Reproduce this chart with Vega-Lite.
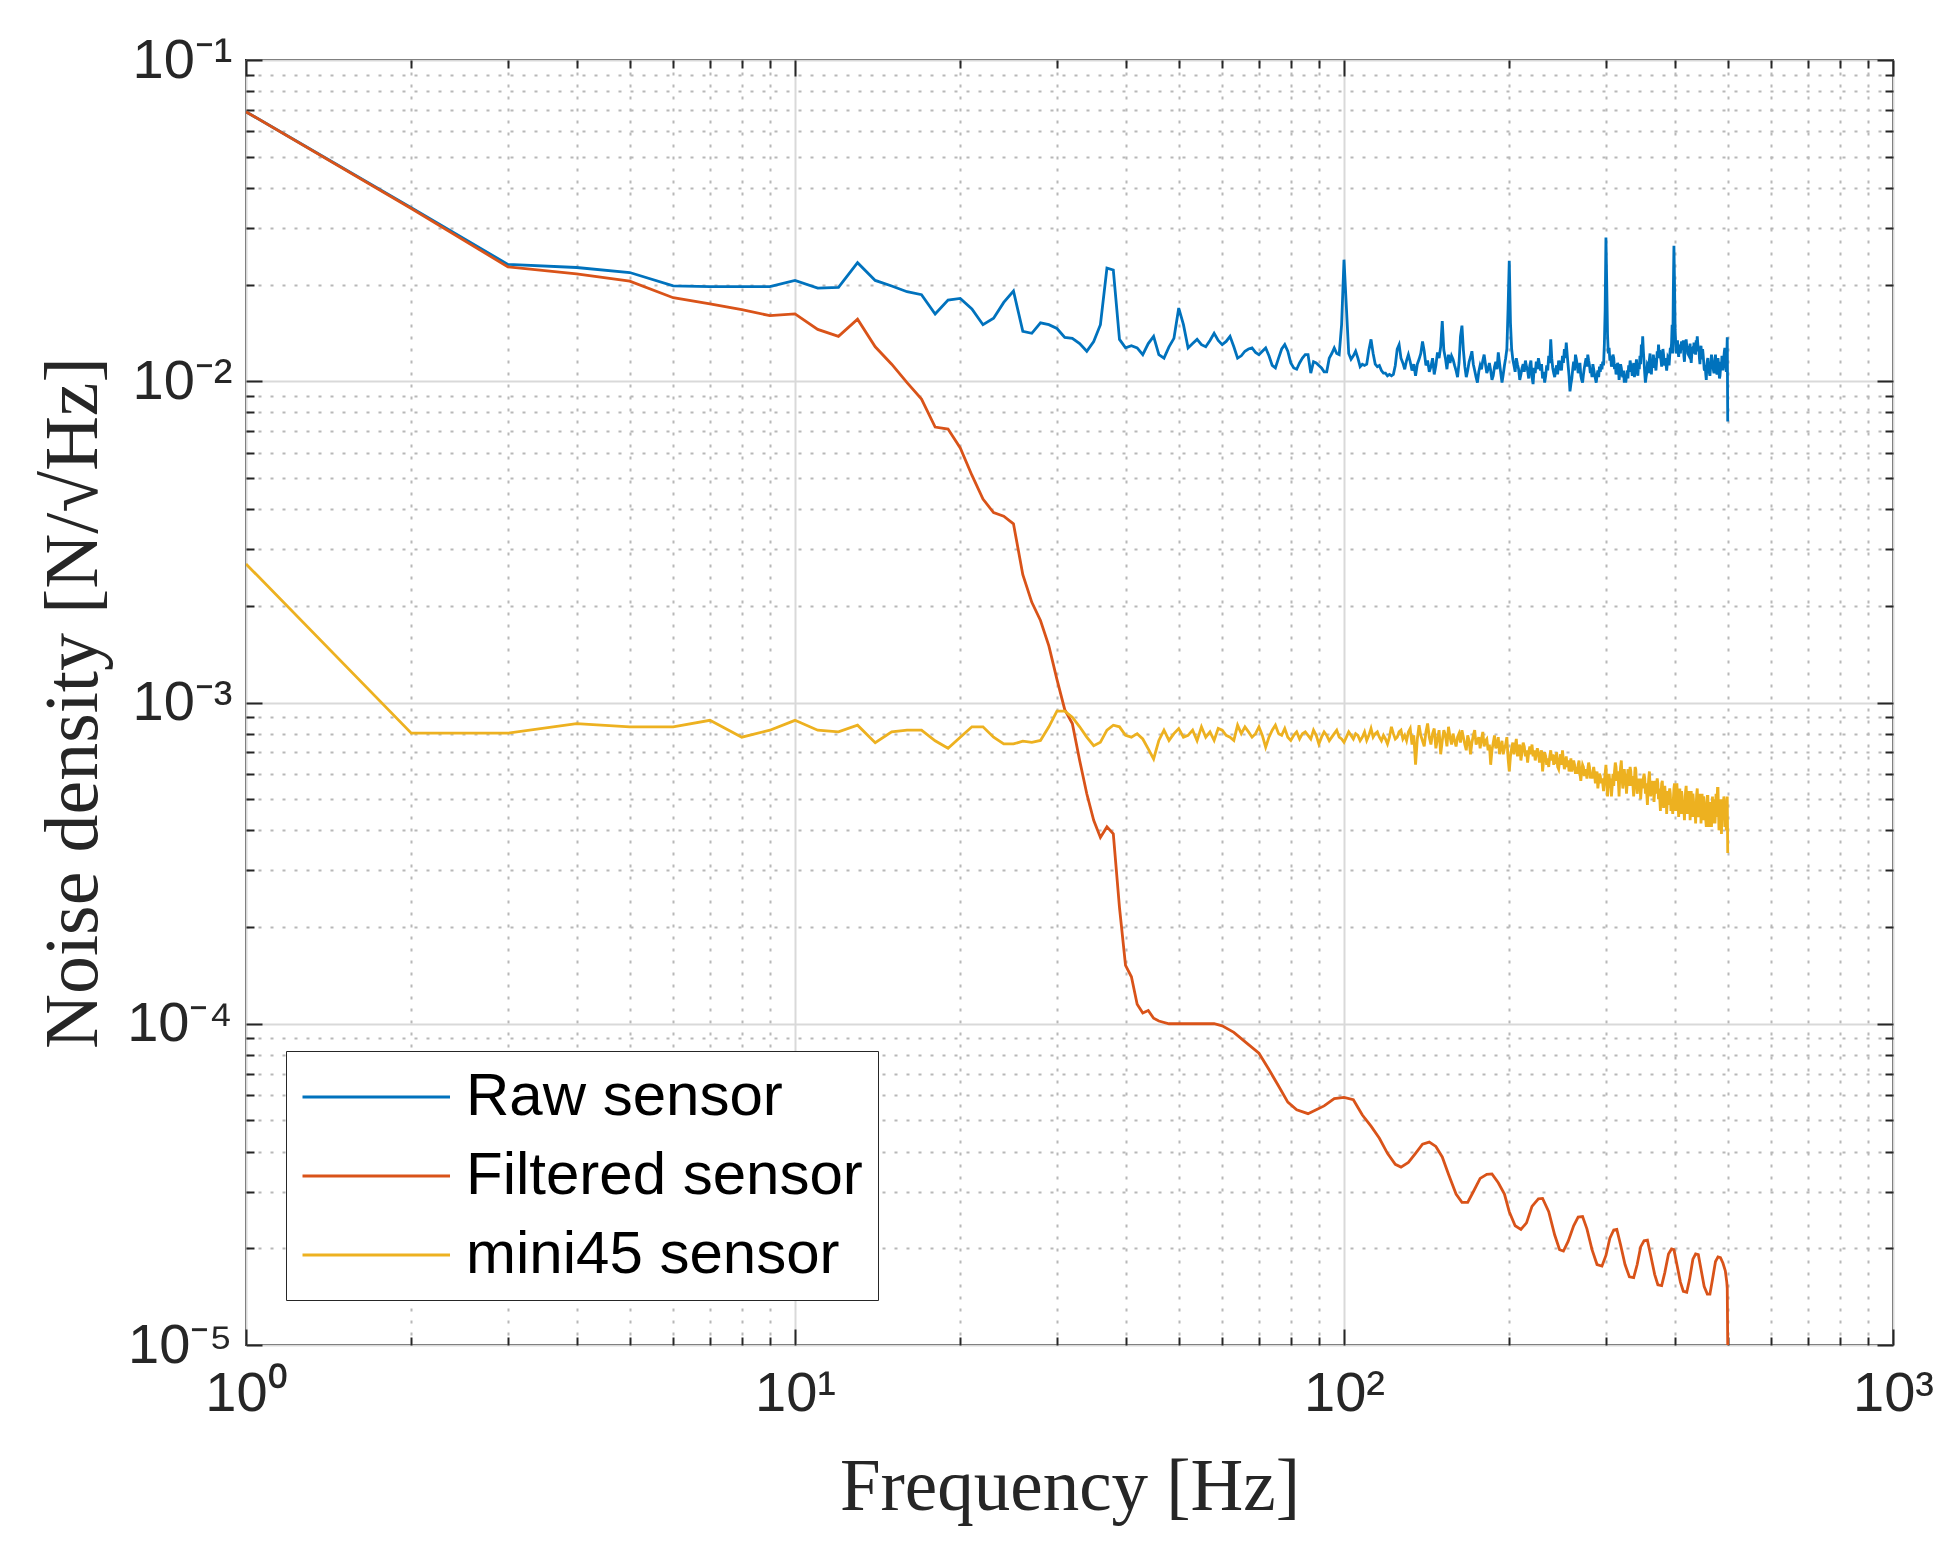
{
  "$schema": "https://vega.github.io/schema/vega-lite/v6.json",
  "width": 1647,
  "height": 1285,
  "autosize": {"type": "none"},
  "padding": {"left": 246, "top": 60, "right": 63, "bottom": 211},
  "background": "#ffffff",
  "view": {"stroke": "#262626", "strokeWidth": 2, "fill": "#ffffff"},
  "datasets": {
    "raw": [
      {"f":1,"v":0.069},{"f":2,"v":0.0347},{"f":3,"v":0.0231},{"f":4,"v":0.0226},{"f":5,"v":0.0218},{"f":6,"v":0.0198},{"f":7,"v":0.0197},{"f":8,"v":0.0197},{"f":9,"v":0.0197},{"f":10,"v":0.0206},
      {"f":11,"v":0.0195},{"f":12,"v":0.0196},{"f":13,"v":0.0234},{"f":14,"v":0.0206},{"f":15,"v":0.0198},{"f":16,"v":0.019},{"f":17,"v":0.0186},{"f":18,"v":0.0162},{"f":19,"v":0.0179},{"f":20,"v":0.0181},
      {"f":21,"v":0.0168},{"f":22,"v":0.015},{"f":23,"v":0.0157},{"f":24,"v":0.0176},{"f":25,"v":0.0191},{"f":26,"v":0.0143},{"f":27,"v":0.0141},{"f":28,"v":0.0152},{"f":29,"v":0.015},{"f":30,"v":0.0146},
      {"f":31,"v":0.0137},{"f":32,"v":0.0136},{"f":33,"v":0.0131},{"f":34,"v":0.0124},{"f":35,"v":0.0133},{"f":36,"v":0.015},{"f":37,"v":0.0225},{"f":38,"v":0.0222},{"f":39,"v":0.0135},{"f":40,"v":0.0127},
      {"f":41,"v":0.0129},{"f":42,"v":0.0127},{"f":43,"v":0.0121},{"f":44,"v":0.0131},{"f":45,"v":0.0138},{"f":46,"v":0.0121},{"f":47,"v":0.0118},{"f":48,"v":0.0128},{"f":49,"v":0.0136},{"f":50,"v":0.0169},
      {"f":51,"v":0.015},{"f":52,"v":0.0127},{"f":53,"v":0.0131},{"f":54,"v":0.0135},{"f":55,"v":0.013},{"f":56,"v":0.0128},{"f":57,"v":0.0134},{"f":58,"v":0.0141},{"f":59,"v":0.0134},{"f":60,"v":0.013},
      {"f":61,"v":0.0133},{"f":62,"v":0.0138},{"f":63,"v":0.0128},{"f":64,"v":0.0118},{"f":65,"v":0.012},{"f":66,"v":0.0124},{"f":67,"v":0.0126},{"f":68,"v":0.0127},{"f":69,"v":0.0123},{"f":70,"v":0.0121},
      {"f":71,"v":0.0124},{"f":72,"v":0.0127},{"f":73,"v":0.012},{"f":74,"v":0.0112},{"f":75,"v":0.011},{"f":76,"v":0.0118},{"f":77,"v":0.0126},{"f":78,"v":0.013},{"f":79,"v":0.0124},{"f":80,"v":0.0114},
      {"f":81,"v":0.011},{"f":82,"v":0.0109},{"f":83,"v":0.0114},{"f":84,"v":0.0118},{"f":85,"v":0.0121},{"f":86,"v":0.0121},{"f":87,"v":0.0106},{"f":88,"v":0.0115},{"f":89,"v":0.0114},{"f":90,"v":0.0112},
      {"f":91,"v":0.011},{"f":92,"v":0.0107},{"f":93,"v":0.0107},{"f":94,"v":0.0118},{"f":95,"v":0.0122},{"f":96,"v":0.0127},{"f":97,"v":0.0122},{"f":98,"v":0.0121},{"f":99,"v":0.015},{"f":100,"v":0.0239},
      {"f":101,"v":0.017},{"f":102,"v":0.0122},{"f":103,"v":0.0117},{"f":104,"v":0.012},{"f":105,"v":0.0124},{"f":106,"v":0.0118},{"f":107,"v":0.0111},{"f":108,"v":0.0113},{"f":109,"v":0.0112},{"f":110,"v":0.0113},
      {"f":111,"v":0.0125},{"f":112,"v":0.0135},{"f":113,"v":0.0122},{"f":114,"v":0.0113},{"f":115,"v":0.0111},{"f":116,"v":0.0112},{"f":117,"v":0.0108},{"f":118,"v":0.0106},{"f":119,"v":0.0106},{"f":120,"v":0.0104},
      {"f":121,"v":0.0105},{"f":122,"v":0.0104},{"f":123,"v":0.0105},{"f":124,"v":0.0112},{"f":125,"v":0.0126},{"f":126,"v":0.013},{"f":127,"v":0.0118},{"f":128,"v":0.0114},{"f":129,"v":0.0109},{"f":130,"v":0.0116},
      {"f":131,"v":0.0121},{"f":132,"v":0.0115},{"f":133,"v":0.0108},{"f":134,"v":0.0113},{"f":135,"v":0.0104},{"f":136,"v":0.0113},{"f":137,"v":0.0117},{"f":138,"v":0.0122},{"f":139,"v":0.0133},{"f":140,"v":0.0124},
      {"f":141,"v":0.0112},{"f":142,"v":0.0116},{"f":143,"v":0.0107},{"f":144,"v":0.0111},{"f":145,"v":0.0118},{"f":146,"v":0.0105},{"f":147,"v":0.0112},{"f":148,"v":0.0123},{"f":149,"v":0.0118},{"f":150,"v":0.0128},
      {"f":151,"v":0.0154},{"f":152,"v":0.0125},{"f":153,"v":0.0118},{"f":154,"v":0.0109},{"f":155,"v":0.0121},{"f":156,"v":0.0114},{"f":157,"v":0.012},{"f":158,"v":0.0117},{"f":159,"v":0.0112},{"f":160,"v":0.0108},
      {"f":161,"v":0.0103},{"f":162,"v":0.0114},{"f":163,"v":0.0138},{"f":164,"v":0.0149},{"f":165,"v":0.0125},{"f":166,"v":0.0111},{"f":167,"v":0.0103},{"f":168,"v":0.0108},{"f":169,"v":0.0115},{"f":170,"v":0.0119},
      {"f":171,"v":0.0124},{"f":172,"v":0.0113},{"f":173,"v":0.0108},{"f":174,"v":0.0103},{"f":175,"v":0.0099},{"f":176,"v":0.0107},{"f":177,"v":0.0112},{"f":178,"v":0.0109},{"f":179,"v":0.0116},{"f":180,"v":0.0121},
      {"f":181,"v":0.0113},{"f":182,"v":0.0106},{"f":183,"v":0.0109},{"f":184,"v":0.0114},{"f":185,"v":0.0108},{"f":186,"v":0.0101},{"f":187,"v":0.0104},{"f":188,"v":0.0111},{"f":189,"v":0.0115},{"f":190,"v":0.0109},
      {"f":191,"v":0.0123},{"f":192,"v":0.0114},{"f":193,"v":0.0106},{"f":194,"v":0.0099},{"f":195,"v":0.0105},{"f":196,"v":0.0112},{"f":197,"v":0.0118},{"f":198,"v":0.0126},{"f":199,"v":0.0168},{"f":200,"v":0.0237},
      {"f":201,"v":0.0152},{"f":202,"v":0.0126},{"f":203,"v":0.0117},{"f":204,"v":0.0112},{"f":205,"v":0.0107},{"f":206,"v":0.0118},{"f":207,"v":0.0113},{"f":208,"v":0.0109},{"f":209,"v":0.0101},{"f":210,"v":0.0105},
      {"f":211,"v":0.011},{"f":212,"v":0.0113},{"f":213,"v":0.0107},{"f":214,"v":0.0116},{"f":215,"v":0.0111},{"f":216,"v":0.0108},{"f":217,"v":0.0102},{"f":218,"v":0.0112},{"f":219,"v":0.0116},{"f":220,"v":0.0103},
      {"f":221,"v":0.0098},{"f":222,"v":0.011},{"f":223,"v":0.0106},{"f":224,"v":0.0115},{"f":225,"v":0.0109},{"f":226,"v":0.0118},{"f":227,"v":0.0113},{"f":228,"v":0.0108},{"f":229,"v":0.0113},{"f":230,"v":0.0102},
      {"f":231,"v":0.0107},{"f":232,"v":0.0099},{"f":233,"v":0.0104},{"f":234,"v":0.0112},{"f":235,"v":0.0108},{"f":236,"v":0.012},{"f":237,"v":0.0114},{"f":238,"v":0.0135},{"f":239,"v":0.0118},{"f":240,"v":0.011},
      {"f":241,"v":0.0106},{"f":242,"v":0.0103},{"f":243,"v":0.0109},{"f":244,"v":0.0112},{"f":245,"v":0.0105},{"f":246,"v":0.0116},{"f":247,"v":0.0111},{"f":248,"v":0.0113},{"f":249,"v":0.0108},{"f":250,"v":0.012},
      {"f":251,"v":0.0114},{"f":252,"v":0.0126},{"f":253,"v":0.0118},{"f":254,"v":0.0132},{"f":255,"v":0.0121},{"f":256,"v":0.0112},{"f":257,"v":0.0104},{"f":258,"v":0.0093},{"f":259,"v":0.0098},{"f":260,"v":0.0102},
      {"f":261,"v":0.0109},{"f":262,"v":0.0115},{"f":263,"v":0.0108},{"f":264,"v":0.0121},{"f":265,"v":0.0117},{"f":266,"v":0.0112},{"f":267,"v":0.0106},{"f":268,"v":0.0108},{"f":269,"v":0.0114},{"f":270,"v":0.0104},
      {"f":271,"v":0.0101},{"f":272,"v":0.0099},{"f":273,"v":0.0105},{"f":274,"v":0.011},{"f":275,"v":0.0114},{"f":276,"v":0.0118},{"f":277,"v":0.0111},{"f":278,"v":0.0121},{"f":279,"v":0.0116},{"f":280,"v":0.0112},
      {"f":281,"v":0.0106},{"f":282,"v":0.0108},{"f":283,"v":0.0103},{"f":284,"v":0.0113},{"f":285,"v":0.0109},{"f":286,"v":0.0105},{"f":287,"v":0.0102},{"f":288,"v":0.0099},{"f":289,"v":0.0104},{"f":290,"v":0.0108},
      {"f":291,"v":0.0103},{"f":292,"v":0.0111},{"f":293,"v":0.0107},{"f":294,"v":0.0113},{"f":295,"v":0.0109},{"f":296,"v":0.0115},{"f":297,"v":0.0112},{"f":298,"v":0.013},{"f":299,"v":0.0166},{"f":300,"v":0.028},
      {"f":301,"v":0.02},{"f":302,"v":0.014},{"f":303,"v":0.0122},{"f":304,"v":0.0127},{"f":305,"v":0.0116},{"f":306,"v":0.012},{"f":307,"v":0.0111},{"f":308,"v":0.0115},{"f":309,"v":0.0121},{"f":310,"v":0.0118},
      {"f":311,"v":0.0109},{"f":312,"v":0.0113},{"f":313,"v":0.0105},{"f":314,"v":0.0108},{"f":315,"v":0.0114},{"f":316,"v":0.0112},{"f":317,"v":0.0101},{"f":318,"v":0.0106},{"f":319,"v":0.0113},{"f":320,"v":0.011},
      {"f":321,"v":0.0105},{"f":322,"v":0.0103},{"f":323,"v":0.0108},{"f":324,"v":0.0099},{"f":325,"v":0.0103},{"f":326,"v":0.0099},{"f":327,"v":0.0104},{"f":328,"v":0.0108},{"f":329,"v":0.0102},{"f":330,"v":0.0112},
      {"f":331,"v":0.0107},{"f":332,"v":0.0116},{"f":333,"v":0.0112},{"f":334,"v":0.011},{"f":335,"v":0.0104},{"f":336,"v":0.0108},{"f":337,"v":0.0114},{"f":338,"v":0.0103},{"f":339,"v":0.0107},{"f":340,"v":0.0112},
      {"f":341,"v":0.0117},{"f":342,"v":0.0108},{"f":343,"v":0.0104},{"f":344,"v":0.0114},{"f":345,"v":0.0109},{"f":346,"v":0.012},{"f":347,"v":0.0113},{"f":348,"v":0.013},{"f":349,"v":0.0121},{"f":350,"v":0.0138},
      {"f":351,"v":0.0124},{"f":352,"v":0.0115},{"f":353,"v":0.0106},{"f":354,"v":0.0099},{"f":355,"v":0.0103},{"f":356,"v":0.0106},{"f":357,"v":0.0113},{"f":358,"v":0.0112},{"f":359,"v":0.0106},{"f":360,"v":0.0117},
      {"f":361,"v":0.0122},{"f":362,"v":0.011},{"f":363,"v":0.0105},{"f":364,"v":0.0115},{"f":365,"v":0.011},{"f":366,"v":0.0121},{"f":367,"v":0.0116},{"f":368,"v":0.0118},{"f":369,"v":0.0112},{"f":370,"v":0.0108},
      {"f":371,"v":0.0115},{"f":372,"v":0.0124},{"f":373,"v":0.0118},{"f":374,"v":0.013},{"f":375,"v":0.0122},{"f":376,"v":0.0125},{"f":377,"v":0.0119},{"f":378,"v":0.0116},{"f":379,"v":0.0111},{"f":380,"v":0.0118},
      {"f":381,"v":0.0126},{"f":382,"v":0.0121},{"f":383,"v":0.0114},{"f":384,"v":0.0112},{"f":385,"v":0.0118},{"f":386,"v":0.0113},{"f":387,"v":0.0108},{"f":388,"v":0.0113},{"f":389,"v":0.0119},{"f":390,"v":0.0118},
      {"f":391,"v":0.0112},{"f":392,"v":0.012},{"f":393,"v":0.0127},{"f":394,"v":0.0125},{"f":395,"v":0.0131},{"f":396,"v":0.015},{"f":397,"v":0.0122},{"f":398,"v":0.0191},{"f":399,"v":0.0264},{"f":400,"v":0.02},
      {"f":401,"v":0.0145},{"f":402,"v":0.013},{"f":403,"v":0.0122},{"f":404,"v":0.0128},{"f":405,"v":0.0134},{"f":406,"v":0.0124},{"f":407,"v":0.0119},{"f":408,"v":0.013},{"f":409,"v":0.0126},{"f":410,"v":0.0122},
      {"f":411,"v":0.0129},{"f":412,"v":0.0133},{"f":413,"v":0.0125},{"f":414,"v":0.0128},{"f":415,"v":0.0134},{"f":416,"v":0.012},{"f":417,"v":0.0115},{"f":418,"v":0.0126},{"f":419,"v":0.0131},{"f":420,"v":0.0135},
      {"f":421,"v":0.0129},{"f":422,"v":0.0128},{"f":423,"v":0.0122},{"f":424,"v":0.0121},{"f":425,"v":0.0127},{"f":426,"v":0.0125},{"f":427,"v":0.0131},{"f":428,"v":0.0119},{"f":429,"v":0.0114},{"f":430,"v":0.0121},
      {"f":431,"v":0.0126},{"f":432,"v":0.0127},{"f":433,"v":0.0122},{"f":434,"v":0.0132},{"f":435,"v":0.0128},{"f":436,"v":0.0126},{"f":437,"v":0.0121},{"f":438,"v":0.0134},{"f":439,"v":0.0129},{"f":440,"v":0.0138},
      {"f":441,"v":0.0131},{"f":442,"v":0.0124},{"f":443,"v":0.0128},{"f":444,"v":0.0118},{"f":445,"v":0.0113},{"f":446,"v":0.0125},{"f":447,"v":0.0129},{"f":448,"v":0.0121},{"f":449,"v":0.0117},{"f":450,"v":0.0126},
      {"f":451,"v":0.0121},{"f":452,"v":0.0115},{"f":453,"v":0.0109},{"f":454,"v":0.0108},{"f":455,"v":0.0112},{"f":456,"v":0.0105},{"f":457,"v":0.0101},{"f":458,"v":0.0112},{"f":459,"v":0.0116},{"f":460,"v":0.0118},
      {"f":461,"v":0.0112},{"f":462,"v":0.011},{"f":463,"v":0.0106},{"f":464,"v":0.0104},{"f":465,"v":0.0109},{"f":466,"v":0.0114},{"f":467,"v":0.0121},{"f":468,"v":0.0118},{"f":469,"v":0.0113},{"f":470,"v":0.0112},
      {"f":471,"v":0.0108},{"f":472,"v":0.0106},{"f":473,"v":0.0111},{"f":474,"v":0.0116},{"f":475,"v":0.0121},{"f":476,"v":0.0111},{"f":477,"v":0.0107},{"f":478,"v":0.0105},{"f":479,"v":0.0112},{"f":480,"v":0.0118},
      {"f":481,"v":0.0113},{"f":482,"v":0.0107},{"f":483,"v":0.0102},{"f":484,"v":0.0104},{"f":485,"v":0.0109},{"f":486,"v":0.0115},{"f":487,"v":0.0111},{"f":488,"v":0.012},{"f":489,"v":0.0114},{"f":490,"v":0.0108},
      {"f":491,"v":0.0113},{"f":492,"v":0.0119},{"f":493,"v":0.0124},{"f":494,"v":0.0127},{"f":495,"v":0.0118},{"f":496,"v":0.0112},{"f":497,"v":0.0107},{"f":498,"v":0.0118},{"f":499,"v":0.0137},{"f":500,"v":0.0075}
    ],
    "filtered": [
      {"f":1,"v":0.069},{"f":2,"v":0.0345},{"f":3,"v":0.0227},{"f":4,"v":0.0216},{"f":5,"v":0.0205},{"f":6,"v":0.0182},{"f":7,"v":0.0174},{"f":8,"v":0.0167},{"f":9,"v":0.016},{"f":10,"v":0.0162},
      {"f":11,"v":0.0145},{"f":12,"v":0.0138},{"f":13,"v":0.0156},{"f":14,"v":0.0128},{"f":15,"v":0.0113},{"f":16,"v":0.0099},{"f":17,"v":0.0088},{"f":18,"v":0.0072},{"f":19,"v":0.0071},{"f":20,"v":0.0062},
      {"f":21,"v":0.0051},{"f":22,"v":0.0043},{"f":23,"v":0.0039},{"f":24,"v":0.0038},{"f":25,"v":0.0036},{"f":26,"v":0.0025},{"f":27,"v":0.00205},{"f":28,"v":0.0018},{"f":29,"v":0.0015},{"f":30,"v":0.00118},
      {"f":31,"v":0.00095},{"f":32,"v":0.00086},{"f":33,"v":0.00066},{"f":34,"v":0.00052},{"f":35,"v":0.00043},{"f":36,"v":0.00038},{"f":37,"v":0.00041},{"f":38,"v":0.00039},{"f":39,"v":0.00023},{"f":40,"v":0.000152},
      {"f":41,"v":0.00014},{"f":42,"v":0.000115},{"f":43,"v":0.000108},{"f":44,"v":0.00011},{"f":45,"v":0.000104},{"f":46,"v":0.000102},{"f":48,"v":0.0001},{"f":50,"v":0.0001},{"f":55,"v":0.0001},{"f":58,"v":0.0001},
      {"f":60,"v":0.0000985},{"f":63,"v":0.000094},{"f":66,"v":0.000088},{"f":70,"v":0.000081},{"f":73,"v":0.000072},{"f":76,"v":0.000064},{"f":79,"v":0.000057},{"f":82,"v":0.000054},{"f":86,"v":0.0000525},{"f":89,"v":0.000054},
      {"f":92,"v":0.0000555},{"f":96,"v":0.0000585},{"f":100,"v":0.000059},{"f":104,"v":0.000058},{"f":108,"v":0.000052},{"f":112,"v":0.000048},{"f":116,"v":0.000044},{"f":120,"v":0.0000395},{"f":124,"v":0.0000365},{"f":127,"v":0.0000358},
      {"f":131,"v":0.000037},{"f":135,"v":0.0000395},{"f":139,"v":0.0000422},{"f":143,"v":0.0000428},{"f":147,"v":0.0000415},{"f":151,"v":0.0000385},{"f":155,"v":0.000034},{"f":160,"v":0.0000295},{"f":164,"v":0.0000278},{"f":168,"v":0.0000278},
      {"f":172,"v":0.00003},{"f":177,"v":0.000033},{"f":182,"v":0.000034},{"f":186,"v":0.0000341},{"f":191,"v":0.000032},{"f":196,"v":0.0000295},{"f":200,"v":0.000026},{"f":205,"v":0.0000235},{"f":210,"v":0.0000229},{"f":215,"v":0.000024},
      {"f":220,"v":0.000027},{"f":226,"v":0.0000285},{"f":230,"v":0.0000286},{"f":236,"v":0.000026},{"f":242,"v":0.000022},{"f":247,"v":0.0000198},{"f":251,"v":0.0000196},{"f":256,"v":0.000021},{"f":262,"v":0.0000235},{"f":267,"v":0.000025},
      {"f":272,"v":0.0000251},{"f":277,"v":0.000023},{"f":283,"v":0.0000198},{"f":289,"v":0.0000178},{"f":295,"v":0.0000176},{"f":300,"v":0.000019},{"f":305,"v":0.0000215},{"f":310,"v":0.0000228},{"f":314,"v":0.0000229},{"f":319,"v":0.0000205},
      {"f":325,"v":0.0000178},{"f":331,"v":0.0000163},{"f":337,"v":0.0000162},{"f":342,"v":0.0000178},{"f":347,"v":0.0000202},{"f":352,"v":0.0000211},{"f":357,"v":0.0000212},{"f":362,"v":0.000019},{"f":368,"v":0.0000166},{"f":373,"v":0.0000154},
      {"f":379,"v":0.0000153},{"f":384,"v":0.0000168},{"f":390,"v":0.0000192},{"f":395,"v":0.0000199},{"f":399,"v":0.0000198},{"f":404,"v":0.0000178},{"f":410,"v":0.0000157},{"f":415,"v":0.0000147},{"f":421,"v":0.0000146},{"f":426,"v":0.000016},
      {"f":432,"v":0.0000185},{"f":437,"v":0.0000192},{"f":442,"v":0.0000191},{"f":447,"v":0.0000172},{"f":453,"v":0.0000152},{"f":459,"v":0.0000144},{"f":464,"v":0.0000144},{"f":469,"v":0.000016},{"f":475,"v":0.0000182},{"f":480,"v":0.0000188},
      {"f":485,"v":0.0000187},{"f":490,"v":0.000018},{"f":495,"v":0.000017},{"f":498,"v":0.0000157},{"f":499,"v":0.000015},{"f":500,"v":0.00001}
    ],
    "mini45": [
      {"f":1,"v":0.0027},{"f":2,"v":0.000803},{"f":3,"v":0.000803},{"f":4,"v":0.00086},{"f":5,"v":0.00084},{"f":6,"v":0.00084},{"f":7,"v":0.00088},{"f":8,"v":0.00078},{"f":9,"v":0.00082},{"f":10,"v":0.00088},
      {"f":11,"v":0.00082},{"f":12,"v":0.00081},{"f":13,"v":0.00085},{"f":14,"v":0.00075},{"f":15,"v":0.00081},{"f":16,"v":0.00082},{"f":17,"v":0.00082},{"f":18,"v":0.00076},{"f":19,"v":0.00072},{"f":20,"v":0.00078},
      {"f":21,"v":0.00084},{"f":22,"v":0.00084},{"f":23,"v":0.00078},{"f":24,"v":0.000743},{"f":25,"v":0.000743},{"f":26,"v":0.000758},{"f":27,"v":0.000752},{"f":28,"v":0.000762},{"f":29,"v":0.00084},{"f":30,"v":0.00094},
      {"f":31,"v":0.00094},{"f":32,"v":0.0009},{"f":33,"v":0.00084},{"f":34,"v":0.00078},{"f":35,"v":0.000734},{"f":36,"v":0.000752},{"f":37,"v":0.00082},{"f":38,"v":0.00085},{"f":39,"v":0.00084},{"f":40,"v":0.00079},
      {"f":41,"v":0.00078},{"f":42,"v":0.0008},{"f":43,"v":0.00077},{"f":44,"v":0.000717},{"f":45,"v":0.000667},{"f":46,"v":0.000762},{"f":47,"v":0.00082},{"f":48,"v":0.000762},{"f":49,"v":0.0008},{"f":50,"v":0.00083},
      {"f":51,"v":0.00078},{"f":52,"v":0.00079},{"f":53,"v":0.00082},{"f":54,"v":0.00076},{"f":55,"v":0.00084},{"f":56,"v":0.00078},{"f":57,"v":0.00081},{"f":58,"v":0.000762},{"f":59,"v":0.00083},{"f":60,"v":0.00082},
      {"f":61,"v":0.00079},{"f":62,"v":0.00078},{"f":63,"v":0.000762},{"f":64,"v":0.00085},{"f":65,"v":0.0008},{"f":66,"v":0.00084},{"f":67,"v":0.00081},{"f":68,"v":0.00078},{"f":69,"v":0.0008},{"f":70,"v":0.00084},
      {"f":71,"v":0.00079},{"f":72,"v":0.000726},{"f":73,"v":0.00078},{"f":74,"v":0.00082},{"f":75,"v":0.00085},{"f":76,"v":0.0008},{"f":77,"v":0.00079},{"f":78,"v":0.00083},{"f":79,"v":0.00078},{"f":80,"v":0.000762},
      {"f":81,"v":0.00079},{"f":82,"v":0.00081},{"f":83,"v":0.00077},{"f":84,"v":0.0008},{"f":85,"v":0.00081},{"f":86,"v":0.00079},{"f":87,"v":0.00077},{"f":88,"v":0.00082},{"f":89,"v":0.00079},{"f":90,"v":0.000743},
      {"f":91,"v":0.00078},{"f":92,"v":0.00081},{"f":93,"v":0.00079},{"f":94,"v":0.00076},{"f":95,"v":0.00078},{"f":96,"v":0.0008},{"f":97,"v":0.00082},{"f":98,"v":0.00078},{"f":99,"v":0.00077},{"f":100,"v":0.000752},
      {"f":101,"v":0.00078},{"f":102,"v":0.00081},{"f":103,"v":0.00079},{"f":104,"v":0.00077},{"f":105,"v":0.0008},{"f":106,"v":0.00079},{"f":107,"v":0.00076},{"f":108,"v":0.00078},{"f":109,"v":0.00081},{"f":110,"v":0.000762},
      {"f":111,"v":0.00079},{"f":112,"v":0.00083},{"f":113,"v":0.00078},{"f":114,"v":0.0008},{"f":115,"v":0.00081},{"f":116,"v":0.00078},{"f":117,"v":0.00076},{"f":118,"v":0.00079},{"f":119,"v":0.00077},{"f":120,"v":0.000743},
      {"f":121,"v":0.00078},{"f":122,"v":0.00084},{"f":123,"v":0.0008},{"f":124,"v":0.00077},{"f":125,"v":0.00078},{"f":126,"v":0.00081},{"f":127,"v":0.00082},{"f":128,"v":0.00077},{"f":129,"v":0.00079},{"f":130,"v":0.00076},
      {"f":131,"v":0.00081},{"f":132,"v":0.00083},{"f":133,"v":0.00074},{"f":134,"v":0.00079},{"f":135,"v":0.00064},{"f":136,"v":0.00077},{"f":137,"v":0.00085},{"f":138,"v":0.00079},{"f":139,"v":0.00076},{"f":140,"v":0.00073},
      {"f":141,"v":0.00081},{"f":142,"v":0.00086},{"f":143,"v":0.00078},{"f":144,"v":0.00074},{"f":145,"v":0.0008},{"f":146,"v":0.00083},{"f":147,"v":0.00072},{"f":148,"v":0.00077},{"f":149,"v":0.00082},{"f":150,"v":0.00069},
      {"f":151,"v":0.00076},{"f":152,"v":0.00082},{"f":153,"v":0.00079},{"f":154,"v":0.00073},{"f":155,"v":0.00084},{"f":156,"v":0.00078},{"f":157,"v":0.00074},{"f":158,"v":0.0008},{"f":159,"v":0.00076},{"f":160,"v":0.00073},
      {"f":161,"v":0.00078},{"f":162,"v":0.0008},{"f":163,"v":0.00075},{"f":164,"v":0.00082},{"f":165,"v":0.00078},{"f":166,"v":0.00074},{"f":167,"v":0.00071},{"f":168,"v":0.00079},{"f":169,"v":0.00076},{"f":170,"v":0.00069},
      {"f":171,"v":0.00075},{"f":172,"v":0.00079},{"f":173,"v":0.00082},{"f":174,"v":0.00074},{"f":175,"v":0.00076},{"f":176,"v":0.00078},{"f":177,"v":0.00072},{"f":178,"v":0.00077},{"f":179,"v":0.00081},{"f":180,"v":0.00073},
      {"f":181,"v":0.00076},{"f":182,"v":0.00077},{"f":183,"v":0.00071},{"f":184,"v":0.00074},{"f":185,"v":0.00064},{"f":186,"v":0.00071},{"f":187,"v":0.00075},{"f":188,"v":0.00079},{"f":189,"v":0.00072},{"f":190,"v":0.00074},
      {"f":191,"v":0.00078},{"f":192,"v":0.00069},{"f":193,"v":0.00073},{"f":194,"v":0.00076},{"f":195,"v":0.00069},{"f":196,"v":0.00072},{"f":197,"v":0.00074},{"f":198,"v":0.00078},{"f":199,"v":0.00067},{"f":200,"v":0.00061},
      {"f":201,"v":0.00068},{"f":202,"v":0.00072},{"f":203,"v":0.00075},{"f":204,"v":0.00069},{"f":205,"v":0.00073},{"f":206,"v":0.00077},{"f":207,"v":0.00068},{"f":208,"v":0.00071},{"f":209,"v":0.00074},{"f":210,"v":0.00066},
      {"f":211,"v":0.0007},{"f":212,"v":0.00075},{"f":213,"v":0.00073},{"f":214,"v":0.00068},{"f":215,"v":0.00071},{"f":216,"v":0.00065},{"f":217,"v":0.0007},{"f":218,"v":0.00073},{"f":219,"v":0.00069},{"f":220,"v":0.00074},
      {"f":221,"v":0.00068},{"f":222,"v":0.00071},{"f":223,"v":0.00066},{"f":224,"v":0.00069},{"f":225,"v":0.00072},{"f":226,"v":0.0007},{"f":227,"v":0.00065},{"f":228,"v":0.00068},{"f":229,"v":0.00071},{"f":230,"v":0.00061},
      {"f":231,"v":0.00066},{"f":232,"v":0.0007},{"f":233,"v":0.00068},{"f":234,"v":0.00064},{"f":235,"v":0.00067},{"f":236,"v":0.00063},{"f":237,"v":0.00068},{"f":238,"v":0.00071},{"f":239,"v":0.00066},{"f":240,"v":0.00069},
      {"f":241,"v":0.00064},{"f":242,"v":0.00067},{"f":243,"v":0.00066},{"f":244,"v":0.0007},{"f":245,"v":0.00063},{"f":246,"v":0.00062},{"f":247,"v":0.00066},{"f":248,"v":0.00069},{"f":249,"v":0.00064},{"f":250,"v":0.00071},
      {"f":251,"v":0.00066},{"f":252,"v":0.00062},{"f":253,"v":0.00064},{"f":254,"v":0.00068},{"f":255,"v":0.00063},{"f":256,"v":0.00066},{"f":257,"v":0.00061},{"f":258,"v":0.00064},{"f":259,"v":0.00067},{"f":260,"v":0.00061},
      {"f":261,"v":0.00063},{"f":262,"v":0.00066},{"f":263,"v":0.00064},{"f":264,"v":0.0006},{"f":265,"v":0.00063},{"f":266,"v":0.0006},{"f":267,"v":0.00064},{"f":268,"v":0.00066},{"f":269,"v":0.0006},{"f":270,"v":0.00057},
      {"f":271,"v":0.00061},{"f":272,"v":0.00064},{"f":273,"v":0.00063},{"f":274,"v":0.00059},{"f":275,"v":0.00062},{"f":276,"v":0.00061},{"f":277,"v":0.00058},{"f":278,"v":0.00062},{"f":279,"v":0.00065},{"f":280,"v":0.00063},
      {"f":281,"v":0.00058},{"f":282,"v":0.0006},{"f":283,"v":0.00058},{"f":284,"v":0.00061},{"f":285,"v":0.00063},{"f":286,"v":0.0006},{"f":287,"v":0.00056},{"f":288,"v":0.00059},{"f":289,"v":0.00061},{"f":290,"v":0.00054},
      {"f":291,"v":0.00057},{"f":292,"v":0.0006},{"f":293,"v":0.00059},{"f":294,"v":0.00056},{"f":295,"v":0.00058},{"f":296,"v":0.00056},{"f":297,"v":0.00053},{"f":298,"v":0.00057},{"f":299,"v":0.0006},{"f":300,"v":0.00064},
      {"f":301,"v":0.00056},{"f":302,"v":0.00051},{"f":303,"v":0.00055},{"f":304,"v":0.0006},{"f":305,"v":0.00056},{"f":306,"v":0.00058},{"f":307,"v":0.00051},{"f":308,"v":0.00055},{"f":309,"v":0.0006},{"f":310,"v":0.00055},
      {"f":311,"v":0.00061},{"f":312,"v":0.00065},{"f":313,"v":0.00063},{"f":314,"v":0.00057},{"f":315,"v":0.00061},{"f":316,"v":0.00057},{"f":317,"v":0.00051},{"f":318,"v":0.00059},{"f":319,"v":0.00063},{"f":320,"v":0.00066},
      {"f":321,"v":0.00058},{"f":322,"v":0.00054},{"f":323,"v":0.00056},{"f":324,"v":0.00062},{"f":325,"v":0.00058},{"f":326,"v":0.0006},{"f":327,"v":0.00052},{"f":328,"v":0.00056},{"f":329,"v":0.00062},{"f":330,"v":0.00055},
      {"f":331,"v":0.00059},{"f":332,"v":0.00063},{"f":333,"v":0.00061},{"f":334,"v":0.00055},{"f":335,"v":0.00059},{"f":336,"v":0.00055},{"f":337,"v":0.00051},{"f":338,"v":0.00057},{"f":339,"v":0.00063},{"f":340,"v":0.00062},
      {"f":341,"v":0.00056},{"f":342,"v":0.00052},{"f":343,"v":0.00054},{"f":344,"v":0.00058},{"f":345,"v":0.00054},{"f":346,"v":0.00058},{"f":347,"v":0.0005},{"f":348,"v":0.00054},{"f":349,"v":0.00058},{"f":350,"v":0.00054},
      {"f":351,"v":0.00058},{"f":352,"v":0.0006},{"f":353,"v":0.00058},{"f":354,"v":0.00052},{"f":355,"v":0.00056},{"f":356,"v":0.00052},{"f":357,"v":0.00048},{"f":358,"v":0.00054},{"f":359,"v":0.00058},{"f":360,"v":0.00061},
      {"f":361,"v":0.00055},{"f":362,"v":0.00051},{"f":363,"v":0.00053},{"f":364,"v":0.00057},{"f":365,"v":0.00055},{"f":366,"v":0.00057},{"f":367,"v":0.00049},{"f":368,"v":0.00053},{"f":369,"v":0.00057},{"f":370,"v":0.00052},
      {"f":371,"v":0.00056},{"f":372,"v":0.00058},{"f":373,"v":0.00056},{"f":374,"v":0.0005},{"f":375,"v":0.00054},{"f":376,"v":0.0005},{"f":377,"v":0.00046},{"f":378,"v":0.00052},{"f":379,"v":0.00056},{"f":380,"v":0.00057},
      {"f":381,"v":0.00051},{"f":382,"v":0.00047},{"f":383,"v":0.00051},{"f":384,"v":0.00055},{"f":385,"v":0.00051},{"f":386,"v":0.00053},{"f":387,"v":0.00045},{"f":388,"v":0.00049},{"f":389,"v":0.00053},{"f":390,"v":0.00048},
      {"f":391,"v":0.00052},{"f":392,"v":0.00054},{"f":393,"v":0.00052},{"f":394,"v":0.00046},{"f":395,"v":0.0005},{"f":396,"v":0.00048},{"f":397,"v":0.00045},{"f":398,"v":0.0005},{"f":399,"v":0.00054},{"f":400,"v":0.00056},
      {"f":401,"v":0.0005},{"f":402,"v":0.00046},{"f":403,"v":0.00052},{"f":404,"v":0.00056},{"f":405,"v":0.0005},{"f":406,"v":0.00048},{"f":407,"v":0.00044},{"f":408,"v":0.0005},{"f":409,"v":0.00054},{"f":410,"v":0.00045},
      {"f":411,"v":0.00049},{"f":412,"v":0.00053},{"f":413,"v":0.00051},{"f":414,"v":0.00045},{"f":415,"v":0.00049},{"f":416,"v":0.00047},{"f":417,"v":0.00043},{"f":418,"v":0.00049},{"f":419,"v":0.00053},{"f":420,"v":0.00055},
      {"f":421,"v":0.00049},{"f":422,"v":0.00045},{"f":423,"v":0.00047},{"f":424,"v":0.00053},{"f":425,"v":0.00049},{"f":426,"v":0.00051},{"f":427,"v":0.00043},{"f":428,"v":0.00047},{"f":429,"v":0.00053},{"f":430,"v":0.00044},
      {"f":431,"v":0.00048},{"f":432,"v":0.00052},{"f":433,"v":0.0005},{"f":434,"v":0.00044},{"f":435,"v":0.00048},{"f":436,"v":0.00046},{"f":437,"v":0.00042},{"f":438,"v":0.00048},{"f":439,"v":0.00052},{"f":440,"v":0.00054},
      {"f":441,"v":0.00048},{"f":442,"v":0.00044},{"f":443,"v":0.00046},{"f":444,"v":0.00052},{"f":445,"v":0.00048},{"f":446,"v":0.0005},{"f":447,"v":0.00042},{"f":448,"v":0.00046},{"f":449,"v":0.00052},{"f":450,"v":0.00043},
      {"f":451,"v":0.00047},{"f":452,"v":0.00051},{"f":453,"v":0.00049},{"f":454,"v":0.00043},{"f":455,"v":0.00047},{"f":456,"v":0.00043},{"f":457,"v":0.00041},{"f":458,"v":0.00047},{"f":459,"v":0.00051},{"f":460,"v":0.00051},
      {"f":461,"v":0.00045},{"f":462,"v":0.00041},{"f":463,"v":0.00045},{"f":464,"v":0.00049},{"f":465,"v":0.00045},{"f":466,"v":0.00049},{"f":467,"v":0.00041},{"f":468,"v":0.00045},{"f":469,"v":0.00051},{"f":470,"v":0.00042},
      {"f":471,"v":0.00046},{"f":472,"v":0.0005},{"f":473,"v":0.00046},{"f":474,"v":0.00042},{"f":475,"v":0.00046},{"f":476,"v":0.00052},{"f":477,"v":0.00044},{"f":478,"v":0.00048},{"f":479,"v":0.00054},{"f":480,"v":0.00054},
      {"f":481,"v":0.00046},{"f":482,"v":0.0004},{"f":483,"v":0.00044},{"f":484,"v":0.0005},{"f":485,"v":0.00046},{"f":486,"v":0.00048},{"f":487,"v":0.00039},{"f":488,"v":0.00044},{"f":489,"v":0.0005},{"f":490,"v":0.00043},
      {"f":491,"v":0.00047},{"f":492,"v":0.00051},{"f":493,"v":0.00049},{"f":494,"v":0.00041},{"f":495,"v":0.00045},{"f":496,"v":0.00045},{"f":497,"v":0.0004},{"f":498,"v":0.00047},{"f":499,"v":0.00051},{"f":500,"v":0.00034}
    ]
  },
  "layer": [
    {
      "data": {"name": "raw"},
      "mark": {"type": "line", "strokeWidth": 2.8, "clip": true},
      "encoding": {
        "x": {
          "field": "f",
          "type": "quantitative",
          "scale": {"type": "log", "domain": [1, 1000], "nice": false},
          "axis": {
            "orient": "bottom",
            "title": "Frequency [Hz]",
            "values": [1,2,3,4,5,6,7,8,9,10,20,30,40,50,60,70,80,90,100,200,300,400,500,600,700,800,900,1000],
            "labelExpr": "abs(log(datum.value)/LN10 - round(log(datum.value)/LN10)) < 0.01 ? '10' + ['⁰','¹','²','³'][round(log(datum.value)/LN10)] : ''",
            "labelOverlap": false,
            "labelFlush": false,
            "labelBound": false,
            "labelFont": "Liberation Sans",
            "labelFontSize": 56,
            "labelColor": "#262626",
            "labelPadding": 21,
            "ticks": false,
            "domain": false,
            "grid": true,
            "gridColor": {"condition": {"test": "abs(log(datum.value)/LN10 - round(log(datum.value)/LN10)) < 0.01", "value": "#d9d9d9"}, "value": "#b8b8b8"},
            "gridDash": {"condition": {"test": "abs(log(datum.value)/LN10 - round(log(datum.value)/LN10)) < 0.01", "value": []}, "value": [3, 9]},
            "gridWidth": 2,
            "titleFont": "Liberation Serif",
            "titleFontSize": 73,
            "titleFontWeight": "normal",
            "titleColor": "#262626",
            "titlePadding": 30
          }
        },
        "y": {
          "field": "v",
          "type": "quantitative",
          "scale": {"type": "log", "domain": [0.00001, 0.1], "nice": false},
          "axis": {
            "orient": "left",
            "title": "Noise density [N/√Hz]",
            "values": [0.00001,0.00002,0.00003,0.00004,0.00005,0.00006,0.00007,0.00008,0.00009,0.0001,0.0002,0.0003,0.0004,0.0005,0.0006,0.0007,0.0008,0.0009,0.001,0.002,0.003,0.004,0.005,0.006,0.007,0.008,0.009,0.01,0.02,0.03,0.04,0.05,0.06,0.07,0.08,0.09,0.1],
            "labelExpr": "abs(log(datum.value)/LN10 - round(log(datum.value)/LN10)) < 0.01 ? '10' + ['⁻⁵','⁻⁴','⁻³','⁻²','⁻¹'][round(log(datum.value)/LN10) + 5] : ''",
            "labelOverlap": false,
            "labelFlush": false,
            "labelBound": false,
            "labelFont": "Liberation Sans",
            "labelFontSize": 56,
            "labelColor": "#262626",
            "labelPadding": 14,
            "ticks": false,
            "domain": false,
            "grid": true,
            "gridColor": {"condition": {"test": "abs(log(datum.value)/LN10 - round(log(datum.value)/LN10)) < 0.01", "value": "#d9d9d9"}, "value": "#b8b8b8"},
            "gridDash": {"condition": {"test": "abs(log(datum.value)/LN10 - round(log(datum.value)/LN10)) < 0.01", "value": []}, "value": [3, 9]},
            "gridWidth": 2,
            "titleFont": "Liberation Serif",
            "titleFontSize": 76,
            "titleFontWeight": "normal",
            "titleColor": "#262626",
            "titlePadding": 14
          }
        },
        "color": {
          "datum": "Raw sensor",
          "type": "nominal",
          "scale": {"domain": ["Raw sensor", "Filtered sensor", "mini45 sensor"], "range": ["#0072BD", "#D95319", "#EDB120"]},
          "legend": {
            "orient": "none",
            "legendX": 40,
            "legendY": 991,
            "title": null,
            "symbolType": "M-1,0H4",
            "symbolSize": 3481,
            "symbolStrokeWidth": 2.8,
            "symbolFillColor": "transparent",
            "labelFont": "Liberation Sans",
            "labelFontSize": 60,
            "labelColor": "#000000",
            "labelOffset": 103,
            "labelLimit": 0,
            "strokeColor": "#262626",
            "fillColor": "#ffffff",
            "padding": 15,
            "rowPadding": 18
          }
        }
      }
    },
    {
      "data": {"name": "filtered"},
      "mark": {"type": "line", "strokeWidth": 2.8, "clip": true},
      "encoding": {
        "x": {
          "field": "f",
          "type": "quantitative",
          "axis": {
            "orient": "top",
            "title": null,
            "values": [1,2,3,4,5,6,7,8,9,10,20,30,40,50,60,70,80,90,100,200,300,400,500,600,700,800,900,1000],
            "labels": false,
            "grid": false,
            "domain": false,
            "ticks": true,
            "tickColor": "#262626",
            "tickWidth": 2,
            "tickSize": {"condition": {"test": "abs(log(datum.value)/LN10 - round(log(datum.value)/LN10)) < 0.01", "value": -16}, "value": -8}
          }
        },
        "y": {
          "field": "v",
          "type": "quantitative",
          "axis": {
            "orient": "right",
            "title": null,
            "values": [0.00001,0.00002,0.00003,0.00004,0.00005,0.00006,0.00007,0.00008,0.00009,0.0001,0.0002,0.0003,0.0004,0.0005,0.0006,0.0007,0.0008,0.0009,0.001,0.002,0.003,0.004,0.005,0.006,0.007,0.008,0.009,0.01,0.02,0.03,0.04,0.05,0.06,0.07,0.08,0.09,0.1],
            "labels": false,
            "grid": false,
            "domain": false,
            "ticks": true,
            "tickColor": "#262626",
            "tickWidth": 2,
            "tickSize": {"condition": {"test": "abs(log(datum.value)/LN10 - round(log(datum.value)/LN10)) < 0.01", "value": -16}, "value": -8}
          }
        },
        "color": {"datum": "Filtered sensor", "type": "nominal"}
      }
    },
    {
      "data": {"name": "mini45"},
      "mark": {"type": "line", "strokeWidth": 2.8, "clip": true},
      "encoding": {
        "x": {
          "field": "f",
          "type": "quantitative",
          "axis": {
            "orient": "bottom",
            "title": null,
            "values": [1,2,3,4,5,6,7,8,9,10,20,30,40,50,60,70,80,90,100,200,300,400,500,600,700,800,900,1000],
            "labels": false,
            "grid": false,
            "domain": false,
            "ticks": true,
            "tickColor": "#262626",
            "tickWidth": 2,
            "tickSize": {"condition": {"test": "abs(log(datum.value)/LN10 - round(log(datum.value)/LN10)) < 0.01", "value": -16}, "value": -8}
          }
        },
        "y": {
          "field": "v",
          "type": "quantitative",
          "axis": {
            "orient": "left",
            "title": null,
            "values": [0.00001,0.00002,0.00003,0.00004,0.00005,0.00006,0.00007,0.00008,0.00009,0.0001,0.0002,0.0003,0.0004,0.0005,0.0006,0.0007,0.0008,0.0009,0.001,0.002,0.003,0.004,0.005,0.006,0.007,0.008,0.009,0.01,0.02,0.03,0.04,0.05,0.06,0.07,0.08,0.09,0.1],
            "labels": false,
            "grid": false,
            "domain": false,
            "ticks": true,
            "tickColor": "#262626",
            "tickWidth": 2,
            "tickSize": {"condition": {"test": "abs(log(datum.value)/LN10 - round(log(datum.value)/LN10)) < 0.01", "value": -16}, "value": -8}
          }
        },
        "color": {"datum": "mini45 sensor", "type": "nominal"}
      }
    }
  ],
  "resolve": {"axis": {"x": "independent", "y": "independent"}}
}
